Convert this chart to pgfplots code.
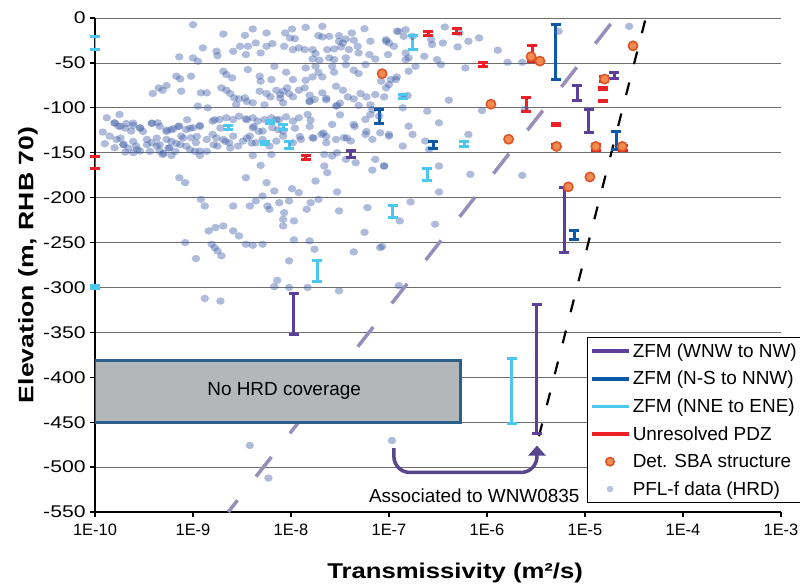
\documentclass[border=0pt]{standalone}
\usepackage{fontspec}
\setmainfont{Liberation Sans}
\usepackage{pgfplots}
\pgfplotsset{compat=1.18}
\usetikzlibrary{arrows.meta}
\definecolor{zfmA}{RGB}{92,63,154}
\definecolor{zfmB}{RGB}{14,88,168}
\definecolor{zfmC}{RGB}{76,200,240}
\definecolor{pdz}{RGB}{236,32,36}
\definecolor{sbafill}{RGB}{240,140,80}
\definecolor{sbadraw}{RGB}{222,84,40}
\definecolor{pfl}{RGB}{70,100,170}
\definecolor{pflleg}{RGB}{185,195,225}
\definecolor{gdash}{RGB}{152,142,186}
\definecolor{boxfill}{RGB}{180,183,185}
\definecolor{boxdraw}{RGB}{45,95,140}
\definecolor{arrowc}{RGB}{88,70,140}
\definecolor{gridc}{RGB}{110,110,110}
\begin{document}
\begin{tikzpicture}
\path[use as bounding box] (-95bp,-76bp) rectangle (705bp,512bp);
\begin{axis}[
  at={(0,0)}, anchor=south west,
  width=686bp, height=494bp, scale only axis,
  xmin=-10, xmax=-3, ymin=-550, ymax=0,
  axis x line=bottom, axis y line=left,
  axis line style={-, line width=1.8bp, black},
  xtick={-10,-9,-8,-7,-6,-5,-4,-3},
  xticklabels={1E-10,1E-9,1E-8,1E-7,1E-6,1E-5,1E-4,1E-3},
  ytick={-550,-500,...,0},
  tick align=outside, major tick length=5bp,
  tick style={black, line width=1.2bp},
  ymajorgrids, grid style={line width=0.8bp, gridc},
  xticklabel style={font=\fontsize{16.5}{19}\selectfont, yshift=-4bp},
  yticklabel style={font=\fontsize{17}{20}\selectfont, xscale=1.25},
  /pgf/number format/assume math mode=true,
  xlabel={\scalebox{1.2}[1]{Transmissivity (m²/s)}},
  ylabel={\scalebox{1.27}[1]{Elevation (m, RHB 70)}},
  xlabel style={font=\fontsize{21.5}{26}\selectfont\bfseries, at={(axis description cs:0.525,-0.1235)}, anchor=center},
  ylabel style={font=\fontsize{21}{25}\selectfont\bfseries, at={(axis description cs:-0.0977,0.5)}, anchor=center, rotate=0},
  unbounded coords=jump,
  legend style={at={(0.717,0.354)}, anchor=north west, draw=black, line width=0.8bp,
    font=\fontsize{19}{22}\selectfont, row sep=8.5bp, inner xsep=3bp, inner ysep=4bp,
    cells={anchor=west}},
  legend cell align=left,
]
% PFL-f data (HRD)
\addplot[forget plot, only marks, mark=*, mark size=3.7bp,
  mark options={draw=pfl, fill=pfl, draw opacity=0, fill opacity=0.44, xscale=1.15}] table {
x y
-9.00 -7.4
-8.69 -17.8
-8.47 -19.3
-8.39 -12.2
-8.25 -16.7
-8.06 -16.7
-7.99 -12.2
-8.01 -22.2
-7.96 -23.0
-7.85 -10.4
-7.68 -9.3
-7.72 -19.6
-7.68 -21.1
-7.61 -20.4
-7.51 -19.6
-7.44 -23.3
-7.38 -16.7
-7.36 -24.8
-7.25 -11.9
-7.19 -25.9
-7.03 -25.9
-6.92 -14.8
-7.51 -25.9
-7.47 -27.8
-8.90 -33.3
-8.76 -37.0
-8.75 -41.9
-8.59 -37.0
-8.52 -31.5
-8.44 -31.5
-8.36 -27.8
-8.25 -31.5
-8.31 -38.9
-8.46 -40.7
-8.19 -28.5
-8.07 -31.5
-7.98 -35.2
-7.92 -33.3
-7.86 -35.2
-7.78 -35.2
-7.75 -39.6
-7.63 -35.2
-7.56 -34.4
-7.49 -32.2
-7.41 -35.2
-7.32 -31.5
-7.31 -38.9
-7.20 -40.7
-7.56 -46.3
-7.61 -44.4
-7.71 -47.0
-7.78 -45.6
-7.44 -44.4
-9.14 -43.3
-9.00 -44.4
-8.95 -48.1
-7.14 -45.6
-7.01 -40.7
-6.95 -31.5
-8.69 -59.3
-8.66 -63.0
-8.60 -66.7
-8.44 -57.4
-8.32 -64.8
-8.17 -53.7
-8.05 -60.4
-7.85 -55.6
-7.75 -53.7
-7.72 -60.4
-7.58 -53.7
-7.56 -60.4
-7.44 -51.9
-7.36 -58.1
-7.31 -61.9
-7.24 -51.9
-7.78 -65.6
-7.85 -69.3
-7.68 -65.6
-9.17 -64.8
-9.13 -67.8
-9.02 -64.8
-9.12 -81.5
-7.08 -70.4
-6.98 -68.5
-6.92 -65.6
-7.98 -68.5
-8.31 -70.4
-8.20 -68.5
-9.41 -84.1
-9.35 -77.8
-9.27 -75.2
-9.31 -80.4
-8.92 -83.3
-8.86 -83.3
-8.71 -77.8
-8.66 -80.4
-8.62 -84.1
-8.58 -88.9
-8.53 -90.0
-8.47 -88.9
-8.32 -81.5
-8.25 -84.1
-8.21 -87.8
-8.15 -80.4
-8.11 -85.2
-8.08 -81.5
-8.04 -77.8
-8.02 -84.1
-7.98 -87.8
-7.92 -80.4
-7.86 -77.8
-7.81 -85.9
-7.76 -90.7
-7.68 -83.3
-7.64 -89.3
-7.54 -75.9
-7.47 -80.4
-7.42 -87.8
-7.36 -90.0
-7.29 -84.1
-7.23 -87.8
-7.14 -85.2
-7.05 -87.8
-8.95 -98.1
-8.85 -100.0
-8.56 -96.3
-8.39 -94.4
-8.08 -94.4
-7.81 -92.6
-7.53 -97.4
-7.31 -97.4
-7.17 -101.9
-9.88 -111.1
-9.80 -116.7
-9.75 -107.4
-9.76 -120.4
-9.68 -117.4
-9.61 -119.6
-9.54 -122.2
-9.63 -125.9
-9.42 -117.4
-9.36 -116.7
-9.27 -124.8
-9.20 -123.3
-9.14 -120.4
-9.07 -124.1
-9.00 -122.2
-8.93 -119.6
-8.80 -114.8
-8.73 -113.0
-8.66 -111.1
-8.59 -113.0
-8.53 -109.3
-8.46 -112.2
-8.39 -111.1
-8.34 -114.8
-8.27 -113.0
-8.20 -111.1
-8.12 -113.0
-8.05 -110.0
-7.98 -114.8
-7.92 -111.1
-7.83 -107.4
-7.80 -113.7
-8.39 -122.2
-8.29 -125.9
-8.19 -122.2
-8.08 -125.9
-7.58 -118.5
-7.54 -98.1
-7.36 -118.5
-7.24 -113.0
-7.19 -107.4
-7.10 -109.3
-9.85 -131.5
-9.78 -135.2
-9.71 -140.7
-9.80 -144.4
-9.69 -149.3
-9.58 -142.6
-9.54 -148.1
-9.47 -135.2
-9.42 -138.9
-9.37 -142.6
-9.34 -148.1
-9.27 -135.2
-9.24 -144.4
-9.17 -139.6
-9.12 -131.5
-9.07 -142.6
-9.02 -133.3
-8.97 -138.9
-8.93 -148.1
-8.86 -135.2
-8.80 -129.6
-8.75 -142.6
-8.69 -135.2
-8.63 -138.9
-8.59 -131.5
-8.54 -142.6
-8.49 -137.0
-8.42 -131.5
-8.36 -138.9
-8.29 -135.2
-8.22 -142.6
-8.15 -137.0
-8.08 -131.5
-7.98 -138.9
-7.90 -135.2
-7.78 -133.3
-7.69 -129.6
-7.64 -138.9
-7.54 -135.2
-7.46 -133.3
-7.39 -137.0
-7.24 -129.6
-7.17 -135.2
-7.09 -127.8
-7.00 -129.6
-9.61 -150.0
-9.31 -151.9
-9.22 -153.0
-8.93 -153.0
-8.39 -153.0
-8.20 -151.9
-7.66 -151.9
-7.58 -153.7
-7.53 -150.0
-9.92 -127.0
-9.90 -140.0
-9.80 -117.0
-9.74 -120.7
-9.69 -122.6
-9.61 -117.0
-9.54 -122.6
-9.51 -126.3
-9.42 -117.0
-9.34 -120.7
-9.27 -126.3
-9.22 -124.4
-9.15 -120.7
-9.06 -113.3
-9.03 -122.6
-8.96 -131.9
-8.93 -120.7
-8.78 -113.3
-8.72 -122.6
-9.74 -133.7
-9.71 -141.1
-9.66 -144.8
-9.61 -137.4
-9.57 -146.7
-9.47 -141.1
-9.44 -148.5
-9.37 -133.7
-9.34 -141.1
-9.30 -150.4
-9.25 -144.8
-9.22 -137.4
-9.18 -148.5
-9.13 -141.1
-9.10 -133.7
-9.03 -146.7
-8.98 -148.5
-8.86 -148.5
-8.79 -141.1
-8.76 -133.7
-8.67 -137.4
-8.62 -144.8
-8.45 -113.3
-8.38 -120.7
-8.33 -126.3
-8.45 -133.7
-8.40 -139.3
-8.15 -113.3
-8.13 -124.4
-7.96 -122.6
-7.91 -131.9
-7.81 -120.7
-7.77 -133.7
-7.67 -128.1
-7.64 -131.9
-7.50 -107.8
-7.43 -133.7
-7.35 -120.7
-7.23 -126.3
-7.19 -96.7
-8.45 -93.0
-8.27 -96.7
-8.11 -89.2
-7.81 -93.0
-7.64 -91.1
-7.50 -94.8
-8.31 -164.1
-7.14 -157.4
-7.05 -164.8
-7.17 -169.3
-7.34 -161.1
-7.66 -164.8
-7.63 -172.2
-7.44 -157.4
-9.14 -177.8
-9.08 -183.3
-8.46 -177.8
-8.25 -183.3
-8.17 -192.6
-7.99 -190.0
-7.92 -194.4
-7.75 -181.5
-7.53 -193.7
-8.92 -201.9
-8.88 -209.3
-8.59 -209.3
-8.42 -209.3
-8.36 -203.7
-8.29 -198.1
-8.24 -209.3
-8.22 -213.0
-8.12 -205.6
-8.02 -203.7
-8.07 -216.7
-7.84 -213.0
-7.80 -205.6
-7.72 -201.9
-7.51 -214.8
-7.22 -211.1
-8.84 -237.0
-8.77 -233.3
-8.69 -231.5
-8.59 -237.0
-8.53 -242.6
-8.81 -251.9
-8.78 -255.6
-8.75 -259.3
-8.71 -264.8
-9.08 -250.0
-8.97 -267.8
-8.46 -251.9
-8.39 -253.0
-8.29 -251.9
-8.08 -224.1
-7.97 -225.9
-8.08 -231.5
-7.97 -247.0
-7.81 -248.1
-7.76 -257.4
-7.36 -260.4
-7.25 -238.5
-7.09 -255.6
-8.14 -292.0
-8.17 -299.0
-8.02 -300.0
-7.83 -300.0
-7.51 -303.7
-8.02 -270.4
-8.88 -312.2
-8.72 -315.2
-8.42 -475.9
-8.23 -512.2
-6.97 -470.4
-6.90 -14.8
-6.83 -13.0
-7.03 -24.1
-7.00 -27.8
-6.85 -20.4
-6.76 -20.4
-6.57 -24.1
-6.56 -29.6
-6.43 -10.0
-6.45 -27.8
-6.28 -16.7
-6.19 -25.9
-6.30 -32.2
-6.08 -22.2
-5.89 -35.9
-5.79 -49.3
-5.64 -49.3
-6.83 -38.9
-6.80 -44.4
-6.73 -53.7
-6.83 -46.3
-6.64 -42.6
-6.51 -46.3
-6.47 -51.9
-6.22 -55.6
-6.80 -59.3
-6.93 -68.5
-7.03 -77.8
-7.00 -74.1
-6.86 -87.0
-6.81 -86.3
-6.39 -91.5
-6.86 -100.0
-6.61 -103.7
-7.00 -131.5
-6.80 -120.4
-6.76 -129.6
-6.63 -137.0
-6.49 -116.7
-6.19 -129.6
-6.05 -103.0
-6.86 -142.6
-6.59 -146.3
-7.05 -164.8
-6.49 -164.8
-6.17 -174.1
-5.64 -175.2
-6.49 -193.7
-6.78 -204.8
-6.89 -225.9
-6.53 -229.6
-7.07 -254.4
-5.27 -14.8
-4.55 -9.3
-5.61 -101.9
-6.90 -298.0
};
% dashed guide lines
\addplot[forget plot, gdash, line width=3.5bp, dash pattern=on 25bp off 30bp, dash phase=10bp] coordinates {(-8.64,-550) (-4.69,0)};
\addplot[forget plot, black, line width=2.2bp, dash pattern=on 13bp off 19bp] coordinates {(-5.47,-465.6) (-4.38,0)};
% No HRD coverage box
\draw[fill=boxfill, draw=boxdraw, line width=3bp] (axis cs:-10,-381) rectangle (axis cs:-6.27,-450);
\node[font=\fontsize{19}{22}\selectfont] at (axis cs:-8.07,-415) {No HRD coverage};
% ZFM (NNE to ENE)
\addplot[forget plot, zfmC, line width=3bp, mark=-, mark size=5bp] coordinates {
(-10,-21) (-10,-35) (-10,nan)
(-10,-298) (-10,-301) (-10,nan)
(-8.64,-120) (-8.64,-124) (-8.64,nan)
(-8.21,-114) (-8.21,-118) (-8.21,nan)
(-8.08,-119) (-8.08,-124) (-8.08,nan)
(-8.27,-138) (-8.27,-141) (-8.27,nan)
(-8.02,-137) (-8.02,-145) (-8.02,nan)
(-7.73,-270) (-7.73,-293) (-7.73,nan)
(-6.96,-209) (-6.96,-222) (-6.96,nan)
(-6.23,-137) (-6.23,-143) (-6.23,nan)
(-6.61,-168) (-6.61,-181) (-6.61,nan)
(-6.76,-20) (-6.76,-35) (-6.76,nan)
(-6.86,-85) (-6.86,-90) (-6.86,nan)
(-5.75,-379) (-5.75,-451)
};
% ZFM (N-S to NNW)
\addplot[forget plot, zfmB, line width=3bp, mark=-, mark size=5bp] coordinates {
(-5.30,-7) (-5.30,-68) (-5.30,nan)
(-5.11,-237) (-5.11,-247) (-5.11,nan)
(-4.68,-126) (-4.68,-146) (-4.68,nan)
(-7.10,-102) (-7.10,-118) (-7.10,nan)
(-6.55,-137) (-6.55,-145)
};
% ZFM (WNW to NW)
\addplot[forget plot, zfmA, line width=3bp, mark=-, mark size=5bp] coordinates {
(-7.97,-307) (-7.97,-352) (-7.97,nan)
(-7.39,-148) (-7.39,-155) (-7.39,nan)
(-5.08,-75) (-5.08,-92) (-5.08,nan)
(-4.96,-102) (-4.96,-128) (-4.96,nan)
(-4.70,-61) (-4.70,-67) (-4.70,nan)
(-5.21,-189) (-5.21,-261) (-5.21,nan)
(-5.49,-319) (-5.49,-463)
};
% Unresolved PDZ
\addplot[forget plot, pdz, line width=3bp, mark=-, mark size=5bp] coordinates {
(-10,-154) (-10,-168) (-10,nan)
(-7.85,-153) (-7.85,-157) (-7.85,nan)
(-6.60,-15) (-6.60,-19) (-6.60,nan)
(-6.31,-12) (-6.31,-17) (-6.31,nan)
(-6.04,-50) (-6.04,-54) (-6.04,nan)
(-5.54,-31) (-5.54,-48) (-5.54,nan)
(-5.60,-89) (-5.60,-104) (-5.60,nan)
(-5.30,-117) (-5.30,-120) (-5.30,nan)
(-5.30,-141) (-5.30,-144) (-5.30,nan)
(-4.81,-65) (-4.81,-71) (-4.81,nan)
(-4.82,-77) (-4.82,-80) (-4.82,nan)
(-4.82,-92) (-4.82,-93) (-4.82,nan)
(-4.89,-141) (-4.89,-148) (-4.89,nan)
(-4.61,-142) (-4.61,-147)
};
% Det. SBA structure
\addplot[forget plot, only marks, mark=*, mark size=4.6bp,
  mark options={fill=sbafill, draw=sbadraw, line width=1.6bp}] coordinates {
(-7.07,-62) (-5.55,-43) (-5.46,-48) (-5.96,-96) (-5.78,-135) (-5.29,-143)
(-4.89,-143) (-4.80,-68) (-4.62,-143) (-4.51,-31) (-5.17,-188) (-4.95,-177)
};
% annotation arrow
\draw[arrowc, line width=3.5bp, rounded corners=16bp, -{Triangle[width=17bp,length=10bp]}]
  (axis cs:-6.95,-479) |- (axis cs:-5.49,-506) -- (axis cs:-5.49,-476);
\node[font=\fontsize{19}{22}\selectfont] at (axis cs:-6.13,-532) {Associated to WNW0835};
% legend
\addlegendimage{legend image code/.code={\draw[zfmA, line width=3.5bp] (0bp,0bp) -- (37bp,0bp);}}
\addlegendentry{ZFM (WNW to NW)}
\addlegendimage{legend image code/.code={\draw[zfmB, line width=3.5bp] (0bp,0bp) -- (37bp,0bp);}}
\addlegendentry{ZFM (N-S to NNW)}
\addlegendimage{legend image code/.code={\draw[zfmC, line width=3.5bp] (0bp,0bp) -- (37bp,0bp);}}
\addlegendentry{ZFM (NNE to ENE)}
\addlegendimage{legend image code/.code={\draw[pdz, line width=3.5bp] (0bp,0bp) -- (37bp,0bp);}}
\addlegendentry{Unresolved PDZ}
\addlegendimage{legend image code/.code={\path[draw=none, fill=none] (0bp,0bp) -- (37bp,0bp); \filldraw[fill=sbafill, draw=sbadraw, line width=1.6bp] (18bp,0bp) circle (4.2bp);}}
\addlegendentry{Det. SBA structure}
\addlegendimage{legend image code/.code={\path[draw=none, fill=none] (0bp,0bp) -- (37bp,0bp); \fill[pflleg, draw=none] (18bp,0bp) circle (3.3bp);}}
\addlegendentry{PFL-f data (HRD)}
\end{axis}
\end{tikzpicture}
\end{document}
